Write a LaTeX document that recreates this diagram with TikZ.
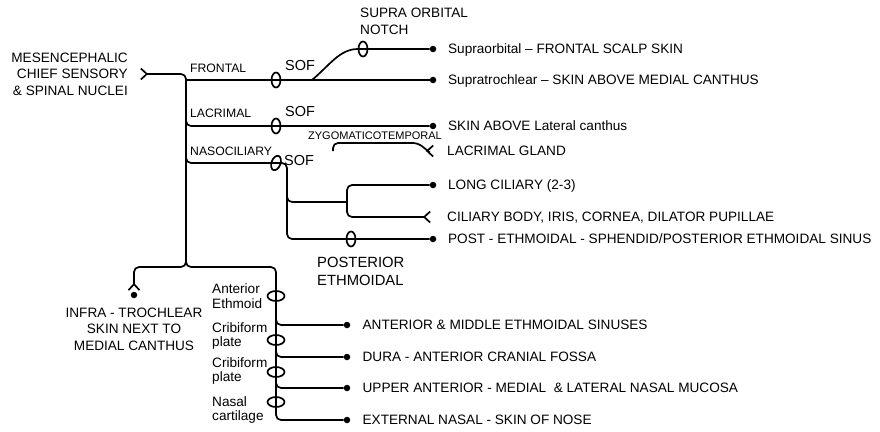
\documentclass[tikz,border=0pt]{standalone}
\usepackage{fontspec}
\setmainfont{Liberation Sans}
\usepackage{tikz}
\usetikzlibrary{shapes,arrows.meta,positioning,calc}
\tikzset{
    nerve/.style={
        line width=1.7pt,
        rounded corners=5pt
    },
    endpt/.style={circle, fill, inner sep=0pt, minimum size=6.5pt},
    foramen/.style={
        ellipse,
        draw,
        line width=1.7pt,
        inner sep=0pt,
        minimum width=9pt,
        minimum height=15pt
    },
    hforamen/.style={foramen, minimum width=17pt, minimum height=10pt},
    target/.style={
        inner sep=0pt,
        text height=9.8pt,
        text depth=0pt,
        font=\fontsize{13.6}{16.5}\selectfont
    },
    tag/.style={inner sep=0pt, font=\fontsize{13.6}{16.5}\selectfont},
    branchtag/.style={inner sep=0pt, anchor=west, text height=8.8pt, text depth=0pt,
        font=\fontsize{12.2}{14}\selectfont},
    softag/.style={inner sep=0pt, anchor=west, text height=10.4pt, text depth=0pt,
        font=\fontsize{14.5}{16}\selectfont},
    nbarb/.tip={Straight Barb[reversed, length=6pt, width=11pt]}
}

\begin{document}
\begin{tikzpicture}[x=1pt, y=-1pt, node distance=11.5pt]
    \useasboundingbox (0,0) rectangle (880,431);

    % nuclei and main trunk
    \node (nuclei) [tag, align=right, anchor=east] at (128,74) {MESENCEPHALIC\\CHIEF SENSORY\\\& SPINAL NUCLEI};
    \coordinate (in) at (140,74);
    \coordinate (split) at (186,258);
    \draw [nerve, nbarb-] (in) -| (split);

    % frontal
    \coordinate (fr) at (186,80);
    \coordinate (fj) at (312,80);
    \node (sof1) [foramen] at (276,80) {};
    \node (son) [foramen] at (363,49) {};
    \node (d1) [endpt] at (433,49) {};
    \node (d2) [endpt] at (433,80) {};
    \draw [nerve] (fr) -- (d2);
    \draw [nerve] (fj) to[out=40, in=180] (son.center) -- (d1);
    \node (frontal) [branchtag] at (190,68.5) {FRONTAL};
    \node (soflabel1) [softag] at (285,65) {SOF};
    \node (sonlabel) [tag, align=left, anchor=north west, font=\fontsize{13.6}{17}\selectfont] at (360,8) {SUPRA ORBITAL\\NOTCH};

    % lacrimal
    \coordinate (lc) at (186,112);
    \node (sof2) [foramen] at (276,126) {};
    \node (d3) [endpt] at (433,126) {};
    \draw [nerve] (lc) |- (d3);
    \node (lacrimal) [branchtag] at (190,113) {LACRIMAL};
    \node (soflabel2) [softag] at (285,111) {SOF};

    \coordinate (zt) at (333,151);
    \coordinate (ztk) at (418,143);
    \coordinate (ztv) at (428,151);
    \coordinate (g1) at (434,151);
    \draw [nerve, -nbarb] (zt) |- (ztk) [sharp corners] -- (ztv) -- (g1);
    \node (ztlabel) [inner sep=0pt, font=\fontsize{11}{13}\selectfont] at (375,136) {ZYGOMATICOTEMPORAL};

    % nasociliary
    \coordinate (nc) at (186,150);
    \coordinate (cil) at (287,239);
    \node (sof3) [foramen, rotate=-20] at (276,163) {};
    \node (pe) [foramen] at (351,239) {};
    \node (d5) [endpt] at (433,239) {};
    \draw [nerve] (nc) |- (sof3.center) -| (cil) -- (d5);
    \node (nasociliary) [branchtag] at (190,151.5) {NASOCILIARY};
    \node (soflabel3) [softag] at (284,160.5) {SOF};
    \node (pelabel) [tag, align=left, anchor=north west, font=\fontsize{14.8}{18}\selectfont] at (317,257) {POSTERIOR\\ETHMOIDAL};

    \coordinate (cstem) at (287,188);
    \coordinate (cfork) at (347,202);
    \coordinate (g2) at (431,217);
    \node (d4) [endpt] at (433,185) {};
    \draw [nerve] (cstem) |- (cfork);
    \draw [nerve] (cfork) |- (d4);
    \draw [nerve, -nbarb] (cfork) |- (g2);

    % infratrochlear
    \coordinate (lbend) at (134,267);
    \coordinate (itc) at (134,291);
    \draw [nerve, -nbarb] (split) |- (lbend) -- (itc);
    \node (itdot) [endpt] at (134,295) {};
    \node (infra) [tag, align=center, below=9pt of itdot] {INFRA - TROCHLEAR\\SKIN NEXT TO\\MEDIAL CANTHUS};

    % ethmoidal and nasal branches
    \coordinate (rbend) at (276,267);
    \coordinate (eb) at (276,420);
    \node (e4) [endpt] at (347,420) {};
    \draw [nerve] (split) |- (rbend) -- (eb) -- (e4);
    \node (ae) [hforamen] at (276,296) {};
    \node (cp1) [hforamen] at (276,340) {};
    \node (cp2) [hforamen] at (276,372) {};
    \node (nca) [hforamen] at (276,402) {};
    \coordinate (b1) at (276,314);
    \coordinate (b2) at (276,346);
    \coordinate (b3) at (276,377);
    \node (e1) [endpt] at (347,325) {};
    \node (e2) [endpt] at (347,357) {};
    \node (e3) [endpt] at (347,388) {};
    \draw [nerve] (b1) |- (e1);
    \draw [nerve] (b2) |- (e2);
    \draw [nerve] (b3) |- (e3);
    \node (aelabel) [tag, align=left, anchor=west, font=\fontsize{13.6}{14.5}\selectfont] at (212,296) {Anterior\\Ethmoid};
    \node (cp1label) [tag, align=left, anchor=west, font=\fontsize{13.6}{14.5}\selectfont] at (212,336) {Cribiform\\plate};
    \node (cp2label) [tag, align=left, anchor=west, font=\fontsize{13.6}{14.5}\selectfont] at (212,371) {Cribiform\\plate};
    \node (ncalabel) [tag, align=left, anchor=west, font=\fontsize{13.6}{14.5}\selectfont] at (212,410) {Nasal\\cartilage};

    % endings
    \node (t1) [target, right=of d1] {Supraorbital – FRONTAL SCALP SKIN};
    \node (t2) [target, right=of d2] {Supratrochlear – SKIN ABOVE MEDIAL CANTHUS};
    \node (t3) [target, right=of d3] {SKIN ABOVE Lateral canthus};
    \node (t4) [target, right=13pt of g1] {LACRIMAL GLAND};
    \node (t5) [target, right=of d4] {LONG CILIARY (2-3)};
    \node (t6) [target, right=16pt of g2] {CILIARY BODY, IRIS, CORNEA, DILATOR PUPILLAE};
    \node (t7) [target, right=of d5] {POST - ETHMOIDAL - SPHENDID/POSTERIOR ETHMOIDAL SINUS};
    \node (s1) [target, right=12pt of e1] {ANTERIOR \& MIDDLE ETHMOIDAL SINUSES};
    \node (s2) [target, right=12pt of e2] {DURA - ANTERIOR CRANIAL FOSSA};
    \node (s3) [target, right=12pt of e3] {UPPER ANTERIOR - MEDIAL~ \& LATERAL NASAL MUCOSA};
    \node (s4) [target, right=12pt of e4] {EXTERNAL NASAL - SKIN OF NOSE};
\end{tikzpicture}
\end{document}
